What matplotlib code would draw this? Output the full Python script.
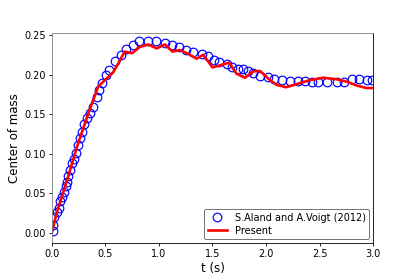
import matplotlib
matplotlib.use("Agg")
import matplotlib.pyplot as plt

# S.Aland and A.Voigt (2012) reference data
ref_t = [0.006, 0.012, 0.022, 0.044, 0.068, 0.075, 0.090, 0.112, 0.128, 0.137,
         0.152, 0.168, 0.184, 0.206, 0.224, 0.246, 0.262, 0.277, 0.302, 0.330,
         0.355, 0.386, 0.418, 0.436, 0.464, 0.505, 0.536, 0.589, 0.642, 0.692,
         0.754, 0.816, 0.894, 0.969, 1.056, 1.125, 1.187, 1.252, 1.320, 1.400,
         1.460, 1.510, 1.563, 1.633, 1.685, 1.735, 1.782, 1.830, 1.880, 1.944,
         2.020, 2.075, 2.147, 2.224, 2.300, 2.365, 2.427, 2.490, 2.567, 2.667,
         2.730, 2.800, 2.870, 2.940, 2.990]
ref_v = [0.002, 0.010, 0.020, 0.026, 0.032, 0.040, 0.046, 0.052, 0.059, 0.065,
         0.072, 0.080, 0.088, 0.094, 0.101, 0.111, 0.120, 0.128, 0.137, 0.145,
         0.152, 0.159, 0.172, 0.181, 0.189, 0.200, 0.206, 0.217, 0.225, 0.232,
         0.237, 0.242, 0.242, 0.242, 0.240, 0.237, 0.235, 0.231, 0.228, 0.226,
         0.223, 0.218, 0.216, 0.213, 0.210, 0.207, 0.207, 0.205, 0.202, 0.198,
         0.197, 0.194, 0.193, 0.192, 0.192, 0.192, 0.191, 0.191, 0.191, 0.191,
         0.190, 0.194, 0.194, 0.193, 0.193]

# Present results
pre_t = [0.0, 0.044, 0.152, 0.23, 0.34, 0.433, 0.495, 0.573, 0.62, 0.68,
         0.75, 0.822, 0.9, 0.979, 1.056, 1.125, 1.196, 1.274, 1.352, 1.414,
         1.50, 1.577, 1.654, 1.726, 1.804, 1.88, 1.944, 2.037, 2.10, 2.187,
         2.287, 2.41, 2.535, 2.66, 2.755, 2.85, 2.94, 3.0]
pre_v = [0.0, 0.025, 0.071, 0.107, 0.151, 0.185, 0.193, 0.203, 0.214, 0.229,
         0.227, 0.235, 0.238, 0.233, 0.238, 0.229, 0.231, 0.226, 0.220, 0.225,
         0.209, 0.212, 0.215, 0.201, 0.196, 0.204, 0.2045, 0.193, 0.187, 0.184,
         0.188, 0.193, 0.196, 0.194, 0.191, 0.186, 0.183, 0.183]

xticks = [0.0, 0.5, 1.0, 1.5, 2.0, 2.5, 3.0]
yticks = [0.00, 0.05, 0.10, 0.15, 0.20, 0.25]

fig = plt.figure(figsize=(4.15, 2.77), dpi=100)
ax = fig.add_axes([0.125, 0.123, 0.774, 0.758])

ax.plot(ref_t, ref_v, linestyle='none', marker='o', markersize=6.2,
        markerfacecolor='none', markeredgecolor='blue', markeredgewidth=0.85,
        label='S.Aland and A.Voigt (2012)')
ax.plot(pre_t, pre_v, color='red', linewidth=1.9, label='Present')

ax.set_xlim(0, 3.0)
ax.set_ylim(-0.0125, 0.2525)
ax.set_xticks(xticks)
ax.set_yticks(yticks)
ax.set_xticklabels([f"{v:.1f}" for v in xticks])
ax.set_yticklabels([f"{v:.2f}" for v in yticks])
ax.tick_params(labelsize=7, length=2.5, width=0.6, pad=2)
for s in ax.spines.values():
    s.set_linewidth(0.6)
ax.spines['left'].set_color('#808080')
ax.spines['top'].set_color('#808080')

ax.set_xlabel('t (s)', fontsize=8.5, labelpad=2)
ax.set_ylabel('Center of mass', fontsize=8.5, labelpad=2)

leg = ax.legend(loc='lower right', fontsize=7, frameon=True, borderaxespad=0.4,
                handlelength=2.0, borderpad=0.35, labelspacing=0.3)
leg.get_frame().set_edgecolor('#333333')
leg.get_frame().set_linewidth(0.6)

fig.savefig('out.png', dpi=100)
